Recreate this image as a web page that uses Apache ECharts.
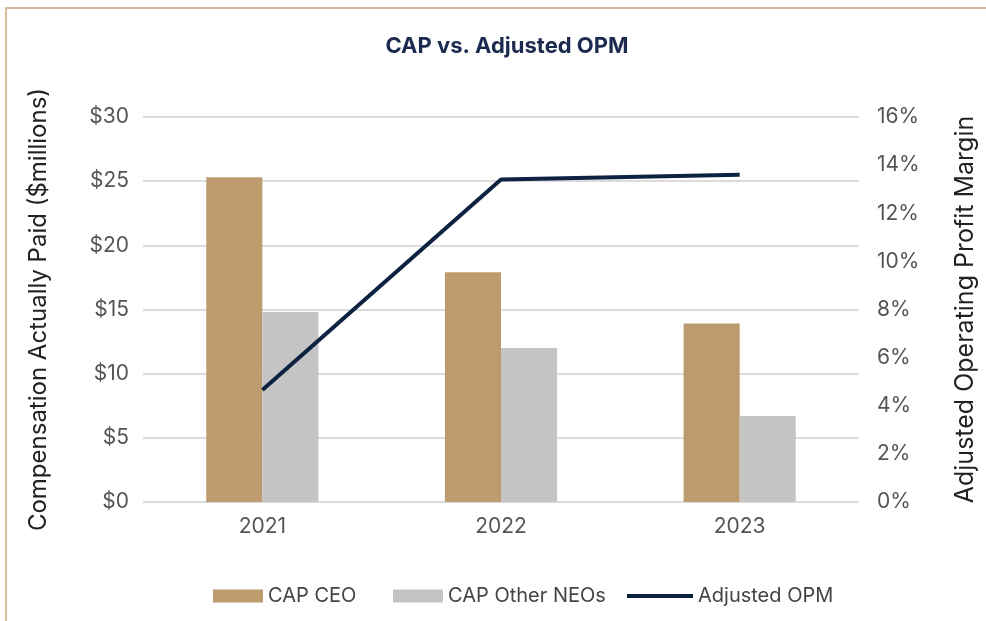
<!DOCTYPE html>
<html>
<head>
<meta charset="utf-8">
<script src="https://cdn.jsdelivr.net/npm/echarts@6/dist/echarts.min.js"></script>
<style>
  html, body { margin: 0; padding: 0; background: #fff; }
  #chart { width: 986px; height: 621px; }
</style>
</head>
<body>
<div id="chart"></div>
<script>
const years = ['2021', '2022', '2023'];
const capCeo = [25.3, 17.9, 13.9];
const capOtherNeos = [14.8, 12.0, 6.7];
const adjustedOpm = [4.65, 13.4, 13.6];
const leftTicks = [0, 5, 10, 15, 20, 25, 30];
const rightTicks = [0, 2, 4, 6, 8, 10, 12, 14, 16];

const fontFamily = 'Inter, "Noto Sans", sans-serif';
const labelColor = '#555';
const legendText = { color: '#444', fontSize: 20, fontFamily };

const chart = echarts.init(document.getElementById('chart'));

const option = {
  backgroundColor: '#fff',
  textStyle: { fontFamily },
  title: {
    text: 'CAP vs. Adjusted OPM',
    left: 502,
    textAlign: 'center',
    top: 30,
    textStyle: { color: '#1b2a4e', fontSize: 22, fontWeight: 'bold', fontFamily }
  },
  graphic: [{
    type: 'polyline',
    shape: { points: [[6, 621], [6, 8], [986, 8]] },
    style: { stroke: '#d8bd96', lineWidth: 2, fill: null }
  }],
  // one legend per item so each sits where it does in the source
  legend: [{
    top: 581, left: 208, itemWidth: 50, itemHeight: 13,
    textStyle: legendText,
    data: [{ name: 'CAP CEO', icon: 'rect' }]
  }, {
    top: 581, left: 388, itemWidth: 50, itemHeight: 13,
    textStyle: legendText,
    data: [{ name: 'CAP Other NEOs', icon: 'rect' }]
  }, {
    top: 581, left: 622, itemWidth: 66, itemHeight: 4,
    textStyle: legendText,
    data: [{ name: 'Adjusted OPM', icon: 'rect' }]
  }],
  grid: { left: 143, right: 126, top: 117, bottom: 119 },
  xAxis: {
    type: 'category',
    data: years,
    axisTick: { show: false },
    axisLine: { show: false },
    axisLabel: { color: labelColor, fontSize: 21, margin: 14 }
  },
  yAxis: [{
    type: 'value',
    min: 0,
    max: 30,
    interval: 5,
    name: 'Compensation Actually Paid ($millions)',
    nameLocation: 'middle',
    nameGap: 92,
    nameTextStyle: { color: '#222', fontSize: 24, fontFamily },
    axisLabel: {
      color: labelColor,
      fontSize: 21,
      margin: 14,
      formatter: v => leftTicks.includes(v) ? '$' + v : ''
    },
    splitLine: { lineStyle: { color: '#dcdcdc', width: 2 } }
  }, {
    type: 'value',
    min: 0,
    max: 16,
    interval: 2,
    position: 'right',
    name: 'Adjusted Operating Profit Margin',
    nameLocation: 'middle',
    nameGap: 94,
    nameRotate: 90,
    nameTextStyle: { color: '#222', fontSize: 25, fontFamily },
    axisLabel: {
      color: labelColor,
      fontSize: 21,
      margin: 18,
      formatter: v => rightTicks.includes(v) ? v + '%' : ''
    },
    splitLine: { show: false }
  }],
  series: [{
    name: 'CAP CEO',
    type: 'bar',
    data: capCeo,
    barGap: '0%',
    barCategoryGap: '53%',
    itemStyle: { color: '#bd9b6c' }
  }, {
    name: 'CAP Other NEOs',
    type: 'bar',
    data: capOtherNeos,
    itemStyle: { color: '#c4c4c4' }
  }, {
    name: 'Adjusted OPM',
    type: 'line',
    yAxisIndex: 1,
    data: adjustedOpm,
    symbol: 'none',
    lineStyle: { color: '#0d2240', width: 4 },
    itemStyle: { color: '#0d2240' }
  }]
};

chart.setOption(option);
</script>
</body>
</html>
